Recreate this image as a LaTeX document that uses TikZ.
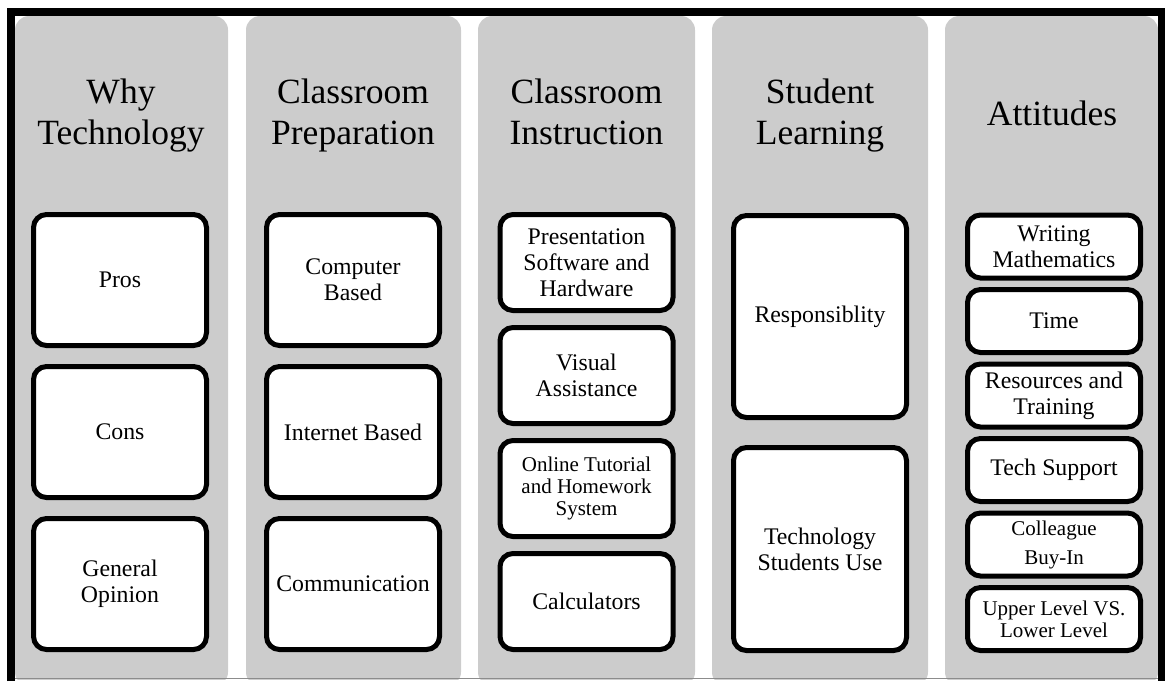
\documentclass[tikz,border=0pt]{standalone}
\usepackage{fontspec}
\setmainfont{Liberation Serif}
\tikzset{
    panel/.style={fill=black!20, rounded corners=14pt},
    headtext/.style={align=center, text depth=8pt, font=\fontsize{35.5}{41}\selectfont},
    itembox/.style={draw=black, line width=5pt, fill=white, rounded corners=13pt,
        minimum width=173pt, inner sep=0pt, align=center,
        font=\fontsize{23.8}{26}\selectfont},
    smalltext/.style={font=\fontsize{21}{22}\selectfont}
}

\begin{document}
\begin{tikzpicture}[x=1pt,y=-1pt]
\useasboundingbox (0,0) rectangle (1165,681);

% grey columns, cut off at the bottom
\begin{scope}
\clip (0,0) rectangle (1165,679);
\fill[panel] (15,16) rectangle (228,686);
\fill[panel] (246,16) rectangle (461,686);
\fill[panel] (478,16) rectangle (695,686);
\fill[panel] (712,16) rectangle (928,686);
\fill[panel] (945,16) rectangle (1158,686);
\end{scope}
\draw[black!45, line width=1.2pt] (15,678.5) -- (1158,678.5);
\draw[line width=8pt] (11,681) -- (11,12) -- (1161.5,12) -- (1161.5,681);

% headings
\node[headtext] (why) at (121,116) {Why\\Technology};
\node[headtext] (prep) at (353,116) {Classroom\\Preparation};
\node[headtext] (instr) at (586.5,116) {Classroom\\Instruction};
\node[headtext] (learn) at (820,116) {Student\\Learning};
\node[headtext] (attit) at (1052,117) {Attitudes};

% why technology
\node[itembox, minimum height=131pt] (pros) at (120,280) {Pros};
\node[itembox, minimum height=131pt] (cons) at (120,432) {Cons};
\node[itembox, minimum height=131pt] (opinion) at (120,584) {General\\Opinion};

% classroom preparation
\node[itembox, minimum height=131pt] (computer) at (353,280) {Computer\\Based};
\node[itembox, minimum height=131pt] (internet) at (353,432) {Internet Based};
\node[itembox, minimum height=131pt] (communic) at (353,584) {Communication};

% classroom instruction
\node[itembox, minimum height=96pt] (present) at (586.5,262.5) {Presentation\\Software and\\Hardware};
\node[itembox, minimum height=96pt] (visual) at (586.5,375.5) {Visual\\Assistance};
\node[itembox, minimum height=96pt, smalltext] (online) at (586.5,488.5) {Online Tutorial\\and Homework\\System};
\node[itembox, minimum height=96pt] (calc) at (586.5,601.5) {Calculators};

% student learning
\node[itembox, minimum height=202pt] (respons) at (820,316.5) {Responsiblity};
\node[itembox, minimum height=203pt] (techuse) at (820,549) {Technology\\Students Use};

% attitudes
\node[itembox, minimum height=63pt] (writing) at (1054,246.5) {Writing\\Mathematics};
\node[itembox, minimum height=63pt] (time) at (1054,321) {Time};
\node[itembox, minimum height=63pt] (resource) at (1054,395.5) {Resources and\\Training};
\node[itembox, minimum height=63pt] (support) at (1054,470) {Tech Support};
\node[itembox, minimum height=63pt, font=\fontsize{21}{29}\selectfont] (colleague) at (1054,544.5) {Colleague\\Buy-In};
\node[itembox, minimum height=63pt, smalltext] (level) at (1054,619) {Upper Level VS.\\Lower Level};
\end{tikzpicture}
\end{document}
